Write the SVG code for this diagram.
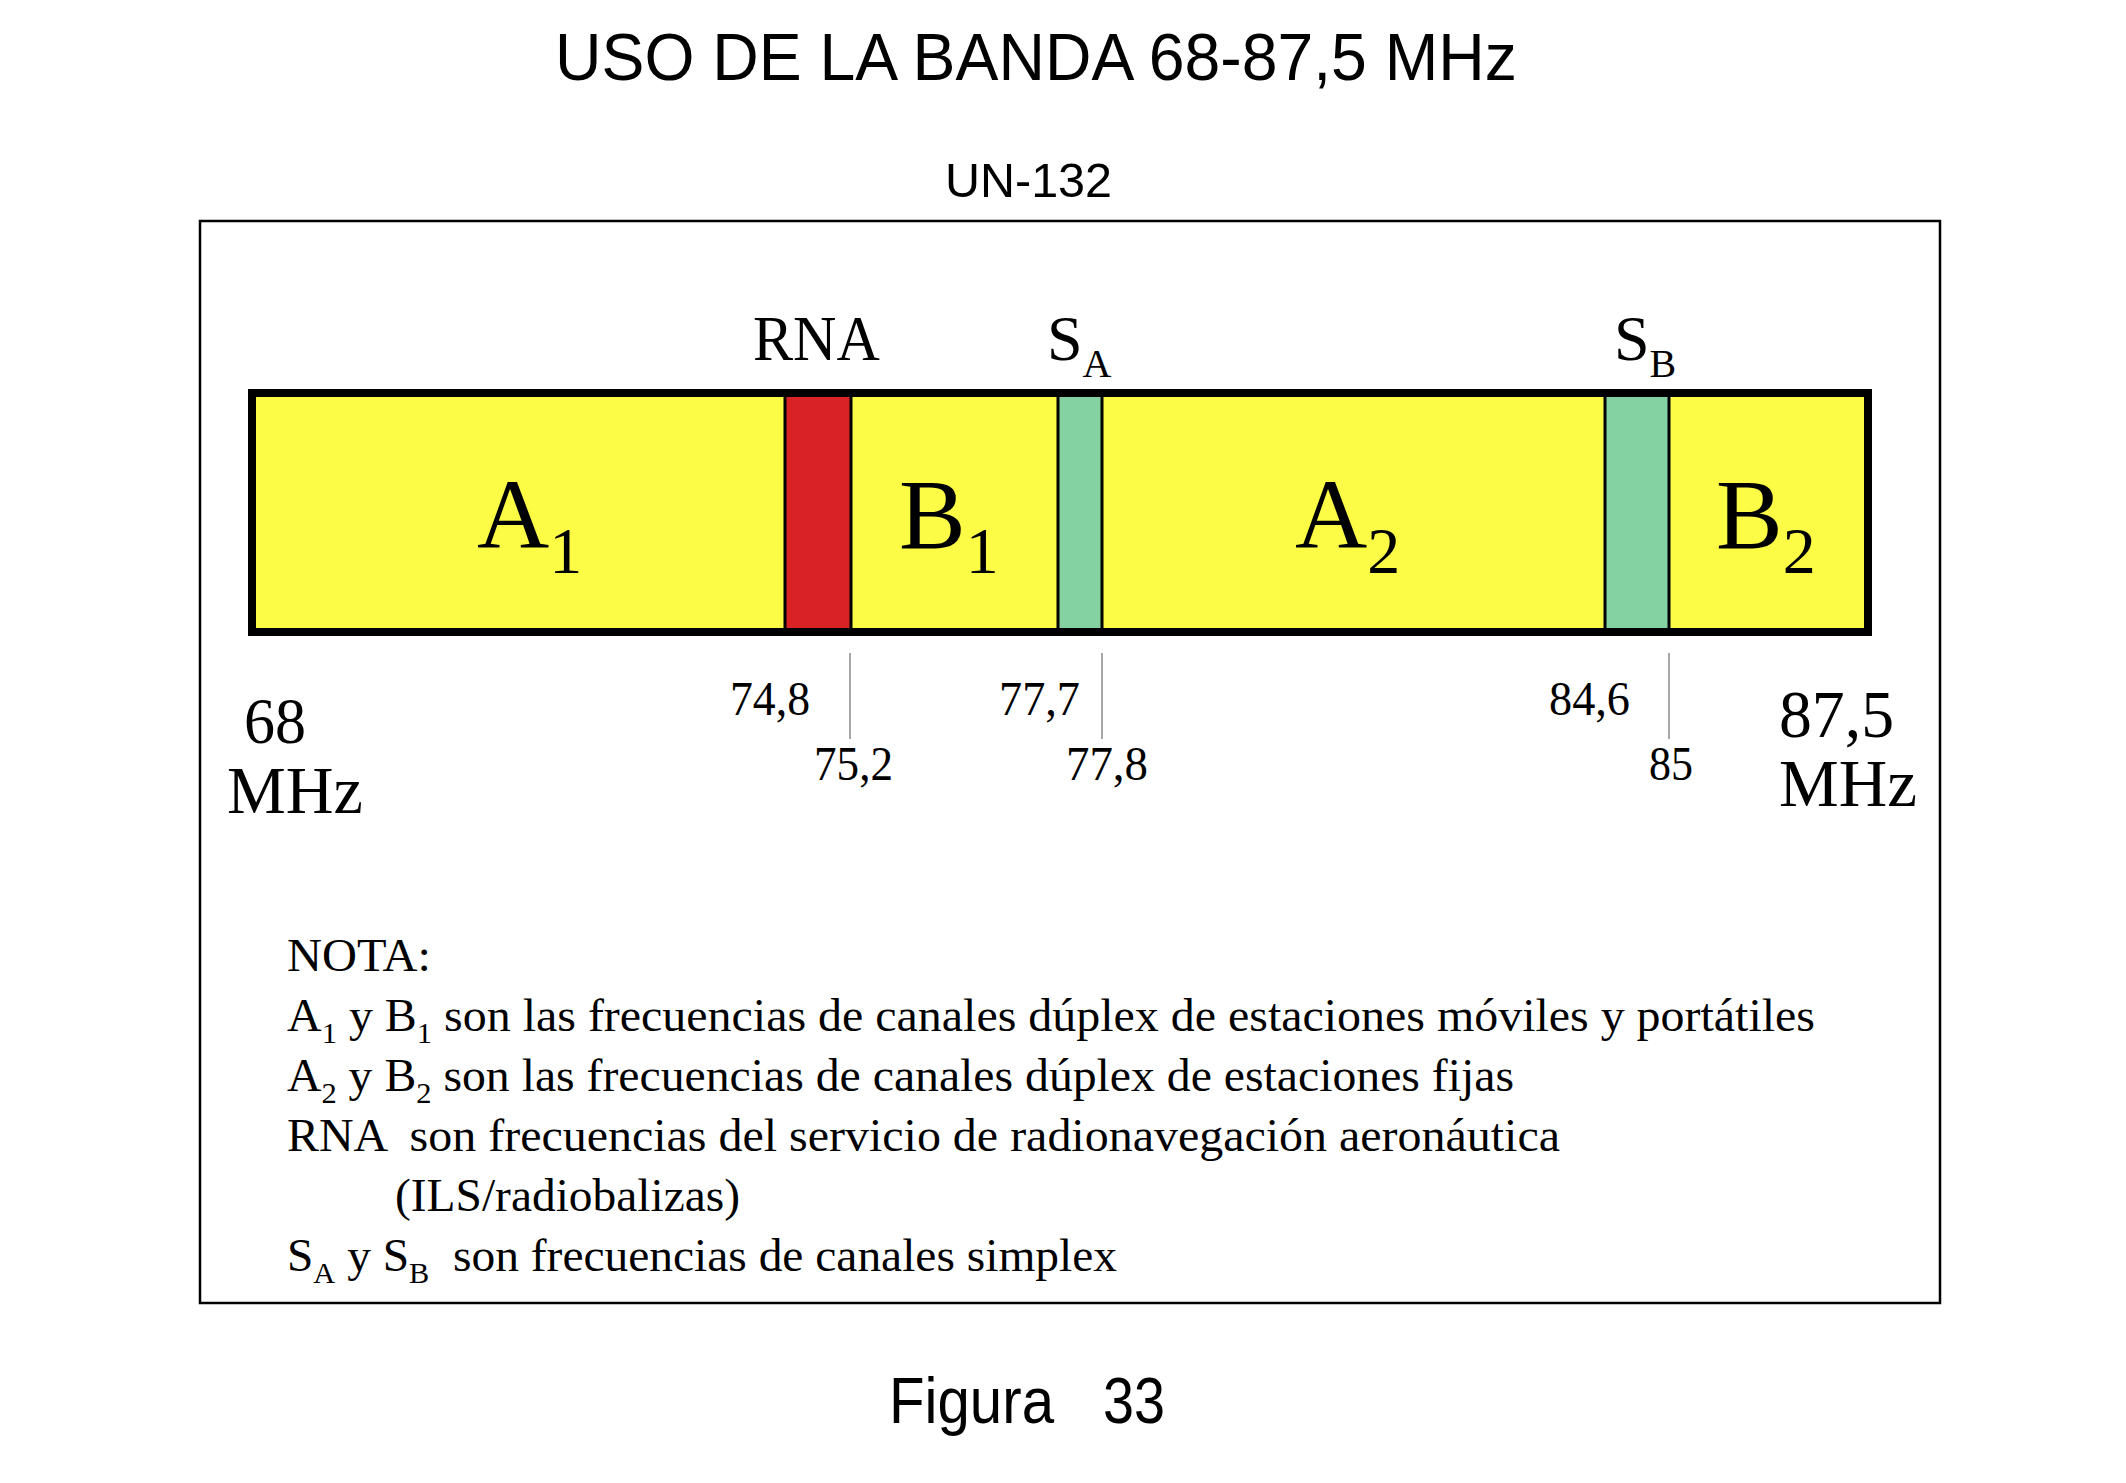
<svg xmlns="http://www.w3.org/2000/svg" width="2126" height="1483" viewBox="0 0 2126 1483">
<style>
.sans{font-family:"Liberation Sans",Arial,sans-serif;fill:#000}
.serif{font-family:"Liberation Serif","Times New Roman",serif;fill:#000}
.yel{fill:#FCFC46}
.grn{fill:#84D1A2}
.div{stroke:#000;stroke-width:3}
.tick{stroke:#8a8a8a;stroke-width:1.5}
</style>
<rect width="2126" height="1483" fill="#fff"/>
<g id="title">
<text class="sans" x="555" y="80" font-size="66" textLength="962" lengthAdjust="spacingAndGlyphs">USO DE LA BANDA 68-87,5 MHz</text>
<text class="sans" x="945" y="197" font-size="49" textLength="167" lengthAdjust="spacingAndGlyphs">UN-132</text>
</g>
<g id="frame">
<rect x="200" y="221" width="1740" height="1082" fill="none" stroke="#000" stroke-width="2.5"/>
</g>
<g id="band">
<rect x="252" y="393" width="1616" height="239" class="yel"/>
<rect id="rna" x="786" y="393" width="64" height="239" fill="#D82226"/>
<rect id="sa" x="1058" y="394" width="44" height="237" class="grn"/>
<rect id="sb" x="1605" y="394" width="64" height="237" class="grn"/>
<line class="div" x1="785" y1="395" x2="785" y2="630"/>
<line class="div" x1="851" y1="395" x2="851" y2="630"/>
<line class="div" x1="1058" y1="395" x2="1058" y2="630"/>
<line class="div" x1="1102" y1="395" x2="1102" y2="630"/>
<line class="div" x1="1605" y1="395" x2="1605" y2="630"/>
<line class="div" x1="1669" y1="395" x2="1669" y2="630"/>
<rect x="252" y="393" width="1616" height="239" fill="none" stroke="#000" stroke-width="8"/>
</g>
<g id="band-labels" class="serif">
<text x="753" y="360" font-size="64" textLength="127" lengthAdjust="spacingAndGlyphs">RNA</text>
<text x="1047" y="360" font-size="64">S<tspan font-size="40" dy="17">A</tspan></text>
<text x="1614" y="360" font-size="64">S<tspan font-size="40" dy="17">B</tspan></text>
<text x="477" y="548" font-size="100">A<tspan font-size="66" dy="25">1</tspan></text>
<text x="899" y="548" font-size="100">B<tspan font-size="66" dy="25">1</tspan></text>
<text x="1295" y="548" font-size="100">A<tspan font-size="66" dy="25">2</tspan></text>
<text x="1716" y="548" font-size="100">B<tspan font-size="66" dy="25">2</tspan></text>
</g>
<g id="ticks">
<line class="tick" x1="850" y1="653" x2="850" y2="739"/>
<line class="tick" x1="1102" y1="653" x2="1102" y2="739"/>
<line class="tick" x1="1669" y1="653" x2="1669" y2="739"/>
</g>
<g id="scale-labels" class="serif">
<text x="244" y="743" font-size="66" textLength="62" lengthAdjust="spacingAndGlyphs">68</text>
<text x="227" y="813" font-size="68" textLength="136" lengthAdjust="spacingAndGlyphs">MHz</text>
<text x="730" y="715" font-size="48" textLength="80" lengthAdjust="spacingAndGlyphs">74,8</text>
<text x="814" y="780" font-size="48" textLength="79" lengthAdjust="spacingAndGlyphs">75,2</text>
<text x="999" y="715" font-size="48" textLength="81" lengthAdjust="spacingAndGlyphs">77,7</text>
<text x="1066" y="780" font-size="48" textLength="82" lengthAdjust="spacingAndGlyphs">77,8</text>
<text x="1549" y="715" font-size="48" textLength="81" lengthAdjust="spacingAndGlyphs">84,6</text>
<text x="1649" y="780" font-size="48" textLength="44" lengthAdjust="spacingAndGlyphs">85</text>
<text x="1779" y="737" font-size="68" textLength="115" lengthAdjust="spacingAndGlyphs">87,5</text>
<text x="1779" y="806" font-size="68" textLength="138" lengthAdjust="spacingAndGlyphs">MHz</text>
</g>
<g id="notes" class="serif" font-size="47">
<text x="287" y="971" textLength="144" lengthAdjust="spacingAndGlyphs">NOTA:</text>
<text x="287" y="1031" textLength="1528" lengthAdjust="spacingAndGlyphs">A<tspan font-size="30" dy="12">1</tspan><tspan dy="-12"> y B</tspan><tspan font-size="30" dy="12">1</tspan><tspan dy="-12"> son las frecuencias de canales dúplex de estaciones móviles y portátiles</tspan></text>
<text x="287" y="1091" textLength="1227" lengthAdjust="spacingAndGlyphs">A<tspan font-size="30" dy="12">2</tspan><tspan dy="-12"> y B</tspan><tspan font-size="30" dy="12">2</tspan><tspan dy="-12"> son las frecuencias de canales dúplex de estaciones fijas</tspan></text>
<text x="287" y="1151" textLength="1273" lengthAdjust="spacingAndGlyphs" xml:space="preserve">RNA  son frecuencias del servicio de radionavegación aeronáutica</text>
<text x="395" y="1211" textLength="345" lengthAdjust="spacingAndGlyphs">(ILS/radiobalizas)</text>
<text x="287" y="1271" textLength="830" lengthAdjust="spacingAndGlyphs" xml:space="preserve">S<tspan font-size="30" dy="12">A</tspan><tspan dy="-12"> y S</tspan><tspan font-size="30" dy="12">B</tspan><tspan dy="-12">  son frecuencias de canales simplex</tspan></text>
</g>
<g id="caption">
<text class="sans" x="889" y="1423" font-size="64" textLength="165" lengthAdjust="spacingAndGlyphs">Figura</text>
<text class="sans" x="1103" y="1423" font-size="64" textLength="62" lengthAdjust="spacingAndGlyphs">33</text>
</g>
</svg>
